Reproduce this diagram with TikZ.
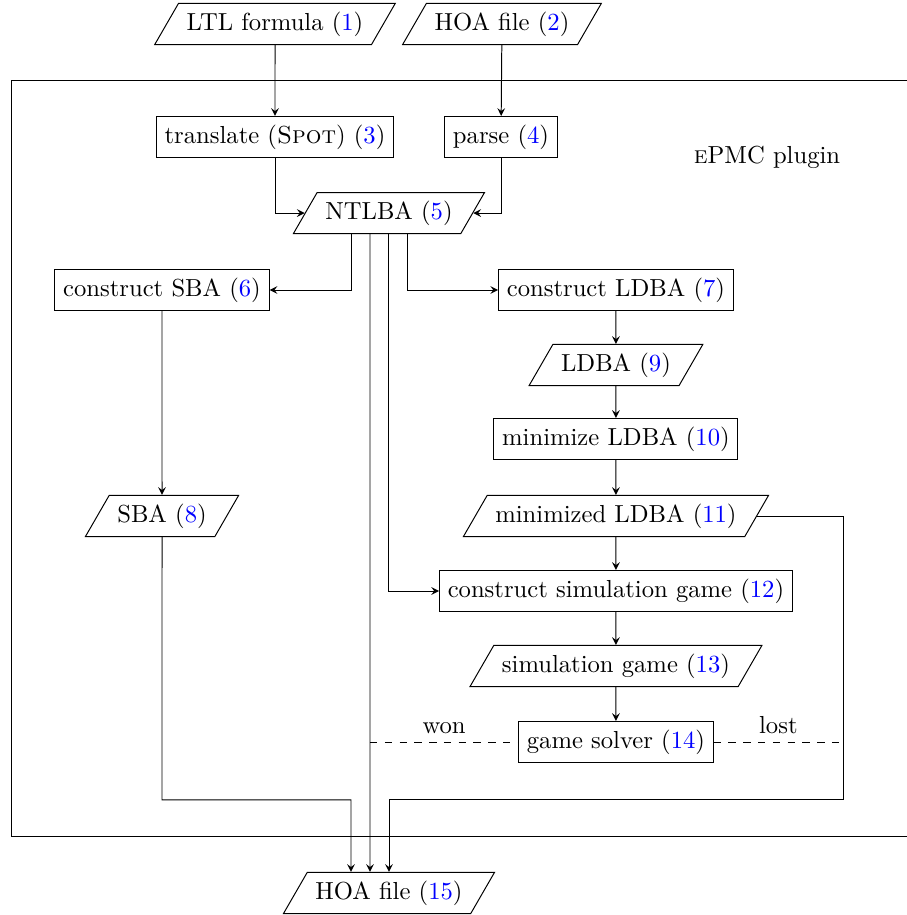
\documentclass[tikz,border=0pt]{standalone}
\usetikzlibrary{shapes.geometric}
\newcommand{\num}[1]{(\textcolor{blue}{#1})}
\begin{document}
\begin{tikzpicture}[>=stealth]
    \tikzstyle{block}=[draw,align=center]
    \tikzstyle{data}=[draw,trapezium,trapezium left angle=60,trapezium right angle=120]

    \useasboundingbox (0,0) rectangle (12.939,-13.053);
    \clip (0,0) rectangle (12.939,-13.053);

    \draw (0.157,-1.155) rectangle (13.4,-11.926);
    \node (plugin) at (10.942,-2.24) {\textsc{e}PMC plugin};

    \node[data] (ltl) at (3.923,-0.342) {LTL formula \num{1}};
    \node[data] (hoa_in) at (7.161,-0.342) {HOA file \num{2}};
    \node[block] (translate) at (3.923,-1.954) {translate (\textsc{Spot}) \num{3}};
    \node[block] (parse) at (7.147,-1.954) {parse \num{4}};
    \node[data] (ntlba) at (5.549,-3.039) {NTLBA \num{5}};
    \node[block] (sba_build) at (2.311,-4.137) {construct SBA \num{6}};
    \node[block] (ldba_build) at (8.787,-4.137) {construct LDBA \num{7}};
    \node[data] (ldba) at (8.787,-5.207) {LDBA \num{9}};
    \node[block] (minimize) at (8.787,-6.262) {minimize LDBA \num{10}};
    \node[data] (sba) at (2.311,-7.361) {SBA \num{8}};
    \node[data] (min_ldba) at (8.787,-7.361) {minimized LDBA \num{11}};
    \node[block] (sim_build) at (8.787,-8.431) {construct simulation game \num{12}};
    \node[data] (game) at (8.787,-9.501) {simulation game \num{13}};
    \node[block] (solver) at (8.787,-10.585) {game solver \num{14}};
    \node[data] (hoa_out) at (5.549,-12.739) {HOA file \num{15}};

    \coordinate (low) at (12.026,-11.412);

    \draw[->] (ltl) -- (translate);
    \draw[->] (hoa_in) -- (parse);
    \draw[->] (translate) |- (ntlba);
    \draw[->] (parse) |- (ntlba);
    \draw[->] ([xshift=-0.542cm]ntlba.south) |- (sba_build);
    \draw[->] ([xshift=0.271cm]ntlba.south) |- (ldba_build);
    \draw[->] (ntlba.south) |- (sim_build);
    \draw[->] ([xshift=-0.271cm]ntlba.south) -- ([xshift=-0.271cm]hoa_out.north);
    \draw[->] (sba_build) -- (sba);
    \draw[->] (ldba_build) -- (ldba);
    \draw[->] (ldba) -- (minimize);
    \draw[->] (minimize) -- (min_ldba);
    \draw[->] (min_ldba) -- (sim_build);
    \draw[->] (sim_build) -- (game);
    \draw[->] (game) -- (solver);
    \draw[->] (sba) -- (sba |- low) -| ([xshift=-0.542cm]hoa_out.north);
    \draw[->] (min_ldba) -| (low) -| (hoa_out.north);
    \draw[dashed] ([xshift=-0.271cm]ntlba.south |- solver) -- (solver) node[midway,above] {won};
    \draw[dashed] (solver) -- (solver -| low) node[midway,above] {lost};
\end{tikzpicture}
\end{document}
